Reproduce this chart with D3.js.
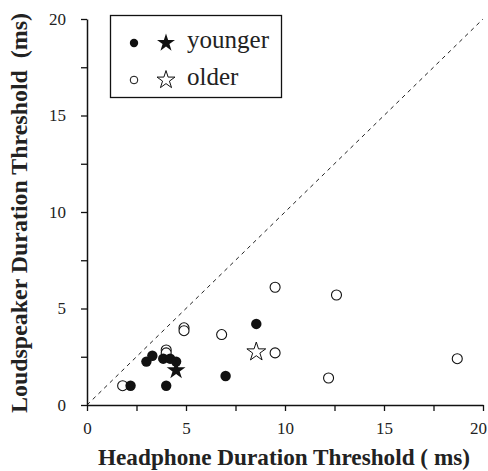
<!DOCTYPE html>
<html><head><meta charset="utf-8">
<script src="https://cdn.jsdelivr.net/npm/d3@7"></script>
<style>body{margin:0;background:#fff}svg{display:block}</style>
</head><body>
<script>
const youngerX = [2.2, 3.0, 3.3, 3.85, 4.2, 4.5, 4.0, 7.0, 8.55];
const youngerY = [1.0, 2.25, 2.55, 2.4, 2.4, 2.25, 1.0, 1.5, 4.2];
const olderX = [1.8, 4.0, 4.0, 4.9, 4.9, 6.8, 9.5, 9.5, 12.6, 12.2, 18.7];
const olderY = [1.0, 2.85, 2.7, 4.0, 3.85, 3.65, 6.1, 2.7, 5.7, 1.4, 2.4];
const youngerMean = [4.5, 1.8];
const olderMean = [8.55, 2.75];
const tickValues = [0, 5, 10, 15, 20];
const minorTicks = [2.5, 7.5, 12.5, 17.5];
const legendLabels = ["younger", "older"];

const W = 488, H = 471;
const svg = d3.select("body").append("svg").attr("width", W).attr("height", H);
const x = d3.scaleLinear().domain([0, 20]).range([87, 483]);
const y = d3.scaleLinear().domain([0, 20]).range([405, 19]);
const font = "Liberation Serif";

function fit(sel, target) {
  const len = sel.node().getComputedTextLength();
  const fs = +sel.attr("font-size");
  if (len > 0) sel.attr("font-size", (fs * target / len).toFixed(2));
}

// diagonal
svg.append("line").attr("x1", x(0)).attr("y1", y(0)).attr("x2", x(20)).attr("y2", y(20))
  .attr("stroke", "#222").attr("stroke-width", 1).attr("stroke-dasharray", "4,4");

// axes
const xAxis = svg.append("g").attr("transform", `translate(0,${y(0)})`)
  .call(d3.axisBottom(x).tickValues(tickValues).tickSize(6).tickPadding(11).tickSizeOuter(0));
const xMinor = svg.append("g").attr("transform", `translate(0,${y(0)})`)
  .call(d3.axisBottom(x).tickValues(minorTicks).tickSize(6).tickFormat("").tickSizeOuter(0));
const yAxis = svg.append("g").attr("transform", `translate(${x(0)},0)`)
  .call(d3.axisLeft(y).tickValues(tickValues).tickSize(6).tickPadding(15).tickSizeOuter(0));
const yMinor = svg.append("g").attr("transform", `translate(${x(0)},0)`)
  .call(d3.axisLeft(y).tickValues(minorTicks).tickSize(6).tickFormat("").tickSizeOuter(0));
[xAxis, xMinor, yAxis, yMinor].forEach(g => {
  g.attr("font-family", null);
  g.select(".domain").attr("stroke", "#111").attr("stroke-width", 1.5);
  g.selectAll(".tick line").attr("stroke", "#111").attr("stroke-width", 1.3);
  g.selectAll(".tick text").style("font-family", font).attr("font-size", 17).attr("fill", "#222");
});
xMinor.select(".domain").remove();
yMinor.select(".domain").remove();
xAxis.selectAll(".tick text").filter(d => d === 20).attr("dx", -5);

// axis titles
const xt = svg.append("text").attr("x", 284).attr("y", 465).attr("text-anchor", "middle")
  .style("font-family", font).attr("font-weight", "bold").attr("font-size", 22).attr("fill", "#222")
  .text("Headphone Duration Threshold ( ms)");
fit(xt, 372);
const yt = svg.append("text").attr("transform", `translate(27,213) rotate(-90)`).attr("text-anchor", "middle")
  .style("font-family", font).attr("font-weight", "bold").attr("font-size", 22).attr("fill", "#222")
  .style("white-space", "pre")
  .text("Loudspeaker Duration Threshold  (ms)");
fit(yt, 400);

const star = d3.symbol().type(d3.symbolStar);

// points
svg.append("g").selectAll("circle").data(olderX.map((v, i) => [v, olderY[i]])).join("circle")
  .attr("cx", d => x(d[0])).attr("cy", d => y(d[1])).attr("r", 5)
  .attr("fill", "#fff").attr("stroke", "#111").attr("stroke-width", 1.1);
svg.append("g").selectAll("circle").data(youngerX.map((v, i) => [v, youngerY[i]])).join("circle")
  .attr("cx", d => x(d[0])).attr("cy", d => y(d[1])).attr("r", 5.2)
  .attr("fill", "#111");
svg.append("path").attr("d", star.size(110)()).attr("transform", `translate(${x(olderMean[0])},${y(olderMean[1])})`)
  .attr("fill", "#fff").attr("stroke", "#111").attr("stroke-width", 1);
svg.append("path").attr("d", star.size(110)()).attr("transform", `translate(${x(youngerMean[0])},${y(youngerMean[1])})`)
  .attr("fill", "#111");

// legend
svg.append("rect").attr("x", 110.5).attr("y", 15.5).attr("width", 171).attr("height", 82)
  .attr("fill", "#fff").attr("stroke", "#111").attr("stroke-width", 1.3);
const ly = [43, 80];
let legendFs = 22;
legendLabels.forEach((lab, i) => {
  const filled = i === 0;
  svg.append("circle").attr("cx", 134).attr("cy", ly[i]).attr("r", filled ? 4.2 : 3.8)
    .attr("fill", filled ? "#111" : "#fff").attr("stroke", "#111").attr("stroke-width", filled ? 0 : 1);
  svg.append("path").attr("d", star.size(100)()).attr("transform", `translate(166,${ly[i]})`)
    .attr("fill", filled ? "#111" : "#fff").attr("stroke", "#111").attr("stroke-width", filled ? 0 : 1);
  const t = svg.append("text").attr("x", 187).attr("y", ly[i] + 5).style("font-family", font).attr("font-size", legendFs)
    .attr("fill", "#222").text(lab);
  if (i === 0) { fit(t, 82); legendFs = +t.attr("font-size"); }
});
</script>
</body></html>
